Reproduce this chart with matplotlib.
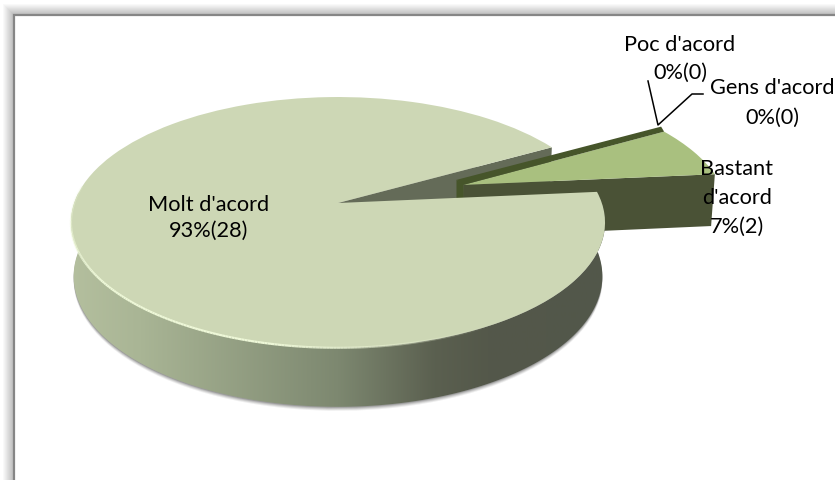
import numpy as np
import matplotlib
matplotlib.use('Agg')
import matplotlib.pyplot as plt
from matplotlib.collections import LineCollection
from matplotlib.colors import LinearSegmentedColormap
from matplotlib.patches import Polygon, Rectangle
from matplotlib.transforms import Transform

plt.rcParams['font.family'] = ['Lato', 'DejaVu Sans']

# Data
categories = ["Molt d'acord", "Bastant\nd'acord", "Poc d'acord", "Gens d'acord"]
counts = [28, 2, 0, 0]
percents = ['93%', '7%', '0%', '0%']

top_colors = ['#cdd7b5', '#a9c07f', '#46552a', '#46552a']
start_angle = 29.3
explode = [0, 0.51, 0, 0]


class PieView(Transform):
    # perspective from unit pie to pixels, with an optional lowered base
    input_dims = 2
    output_dims = 2
    is_separable = False
    has_inverse = False

    def __init__(self, base=False, shift=0.0):
        super().__init__()
        self.base = base
        self.shift = shift

    def transform_non_affine(self, values):
        values = np.asarray(values, dtype=float)
        w = 1 + 0.155 * values[:, 1]
        x = 263.8 * values[:, 0] / w
        y = -122.4 * values[:, 1] / w
        if self.base:
            x = 0.99 * x
            y = 53 + 1.041 * y
        return np.column_stack([338 + x, 203 + y + self.shift])


fig = plt.figure(figsize=(8.35, 4.8), dpi=100)
ax = fig.add_axes([0, 0, 1, 1])


def draw_pie(view, colors, **props):
    wedges, _ = ax.pie(counts, explode=explode, colors=colors, startangle=start_angle,
                       counterclock=True, normalize=True,
                       wedgeprops=dict(transform=view + ax.transData, linewidth=0, **props))
    return wedges


def project(view, pts):
    return view.transform_non_affine(np.asarray(pts))


def rim_points(wedge, t1, t2, n=200):
    angles = np.radians(np.linspace(t1, t2, n))
    cx, cy = wedge.center
    return np.column_stack([cx + wedge.r * np.cos(angles), cy + wedge.r * np.sin(angles)])


def edge_wall(wedge, angle, color, zorder):
    pts = np.vstack([wedge.center, rim_points(wedge, angle, angle, 1)])
    top = project(PieView(), pts)
    bottom = project(PieView(base=True), pts)
    ax.add_patch(Polygon(np.vstack([top, bottom[::-1]]), closed=True,
                         facecolor=color, edgecolor='none', zorder=zorder))
    return top


# chart frame with its soft shadow
for i in range(11):
    level = 1 - 0.024 * (i + 1)
    ax.add_patch(Rectangle((3 + i, 4 + i), 900, 600, facecolor=str(level), edgecolor='none', zorder=0.1))
ax.add_patch(Rectangle((14, 15), 900, 600, facecolor='white', edgecolor='#868686', linewidth=1.6, zorder=0.2))

# soft shadow under the pie
for shift, alpha in [(4, 0.10), (3, 0.15), (2, 0.2), (1, 0.3)]:
    for wedge in draw_pie(PieView(base=True, shift=shift), ['#555555'] * 4, alpha=alpha, zorder=1):
        if wedge.theta2 - wedge.theta1 < 90:
            wedge.set_visible(False)

# top faces are drawn last, the walls need their geometry first
wedges = draw_pie(PieView(), top_colors, zorder=6)
main, side = wedges[0], wedges[1]
main.set_zorder(6)
side.set_zorder(4)

# walls of the cut and of the pulled out slice
edge_wall(main, main.theta1, '#646b58', 2)
edge_wall(side, side.theta1, '#4a5236', 3)

# zero slices only show up as a dark band along the slice edge
edge = project(PieView(), np.vstack([side.center, rim_points(side, side.theta2, side.theta2, 1)]))
band = np.vstack([edge[0] + [-7, -5], edge[1] + [-3, -5], edge[1], edge[0]])
stub = np.vstack([edge[0] + [-7, -5], edge[0] + [0, -1], edge[0] + [0, 14], edge[0] + [-7, 14]])
for shape in (band, stub):
    ax.add_patch(Polygon(shape, closed=True, facecolor='#46552a', edgecolor='none', zorder=4.5))

# outer wall of the big slice with its horizontal gradient
wall_top = project(PieView(), rim_points(main, 175, main.theta2))
wall_bottom = project(PieView(base=True), rim_points(main, 175, main.theta2))
wall_cmap = LinearSegmentedColormap.from_list('wall', [
    (0.0, '#b4bf9e'), (0.13, '#a9b595'), (0.50, '#7d8870'), (0.68, '#5b6050'), (0.78, '#54584a'), (1.0, '#52574a')])
im = ax.imshow(np.linspace(0, 1, 256).reshape(1, -1), extent=(70, 606, 480, 0), cmap=wall_cmap,
               aspect='auto', zorder=5)
im.set_clip_path(Polygon(np.vstack([wall_top, wall_bottom[::-1]]), closed=True, transform=ax.transData))

# light rim on the lower left of the big slice
rim = project(PieView(), rim_points(main, 172, 300))
segments = np.stack([rim[:-1], rim[1:]], axis=1)
fade = np.clip(np.linspace(0.2, 2.6, len(segments)), 0, 1) * np.clip(np.linspace(3.0, 0, len(segments)), 0, 1)
rim_colors = np.tile(matplotlib.colors.to_rgba('#eef8d8'), (len(segments), 1))
rim_colors[:, 3] = fade
ax.add_collection(LineCollection(segments, colors=rim_colors, linewidths=1.6, zorder=7))

# leader lines
ax.plot([648, 658, 692, 703], [81, 125, 94, 94], color='black', linewidth=1.1, zorder=8)

# labels
label_pos = [(209, 218), (737, 198), (680, 59), (772, 103)]
label_spacing = [1.34, 1.56, 1.44, 1.64]
for name, pct, n, (x, y), spacing in zip(categories, percents, counts, label_pos, label_spacing):
    ax.text(x, y, f'{name}\n{pct}({n})', ha='center', va='center', fontsize=15.7,
            color='black', linespacing=spacing, zorder=9)

ax.set_aspect('auto')
ax.set_xlim(0, 835)
ax.set_ylim(480, 0)
ax.axis('off')

fig.savefig('out.png', dpi=100)
